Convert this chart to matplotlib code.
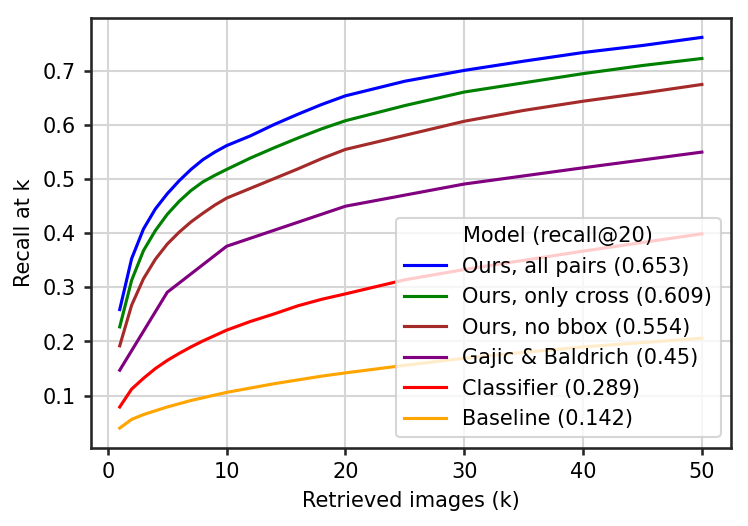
import matplotlib
matplotlib.use("Agg")
import matplotlib.pyplot as plt

k = [1, 2, 3, 4, 5, 6, 7, 8, 9, 10, 12, 14, 16, 18, 20, 25, 30, 35, 40, 45, 50]

all_pairs = [0.259, 0.353, 0.408, 0.445, 0.473, 0.497, 0.518, 0.536, 0.55, 0.562,
             0.58, 0.601, 0.62, 0.638, 0.654, 0.681, 0.701, 0.718, 0.734, 0.747, 0.762]
only_cross = [0.227, 0.313, 0.368, 0.405, 0.435, 0.459, 0.479, 0.495, 0.507, 0.518,
              0.539, 0.558, 0.576, 0.593, 0.608, 0.636, 0.661, 0.678, 0.695, 0.71, 0.723]
no_bbox = [0.192, 0.267, 0.316, 0.352, 0.38, 0.402, 0.421, 0.437, 0.452, 0.465,
           0.483, 0.501, 0.519, 0.538, 0.555, 0.581, 0.607, 0.627, 0.644, 0.659, 0.675]
classifier = [0.079, 0.112, 0.132, 0.15, 0.165, 0.178, 0.19, 0.201, 0.211, 0.221,
              0.237, 0.251, 0.266, 0.278, 0.288, 0.314, 0.333, 0.35, 0.367, 0.383, 0.399]
baseline = [0.04, 0.056, 0.065, 0.072, 0.079, 0.085, 0.091, 0.096, 0.101, 0.106,
            0.114, 0.122, 0.129, 0.136, 0.142, 0.156, 0.169, 0.18, 0.19, 0.198, 0.206]

gajic_k = [1, 5, 10, 20, 30, 40, 50]
gajic = [0.147, 0.291, 0.376, 0.45, 0.491, 0.521, 0.55]

fig, ax = plt.subplots(figsize=(4.993, 3.507), dpi=150)
fig.subplots_adjust(left=0.121, right=0.976, top=0.966, bottom=0.149)

ax.plot(k, all_pairs, color="blue", label="Ours, all pairs (0.653)")
ax.plot(k, only_cross, color="green", label="Ours, only cross (0.609)")
ax.plot(k, no_bbox, color="brown", label="Ours, no bbox (0.554)")
ax.plot(gajic_k, gajic, color="purple", label="Gajic & Baldrich (0.45)")
ax.plot(k, classifier, color="red", label="Classifier (0.289)")
ax.plot(k, baseline, color="orange", label="Baseline (0.142)")

ax.grid(True, color="#d6d6d6", linewidth=1.0)
ax.set_axisbelow(True)
for s in ax.spines.values():
    s.set_color("#262626")
    s.set_linewidth(1.25)
ax.tick_params(color="#262626", width=1.25)
ax.set_xlabel("Retrieved images (k)")
ax.set_ylabel("Recall at k")
ax.set_xticks([0, 10, 20, 30, 40, 50])
ax.set_yticks([0.1, 0.2, 0.3, 0.4, 0.5, 0.6, 0.7])
ax.legend(title="Model (recall@20)", loc="lower right")

fig.savefig("out.png", dpi=150)
